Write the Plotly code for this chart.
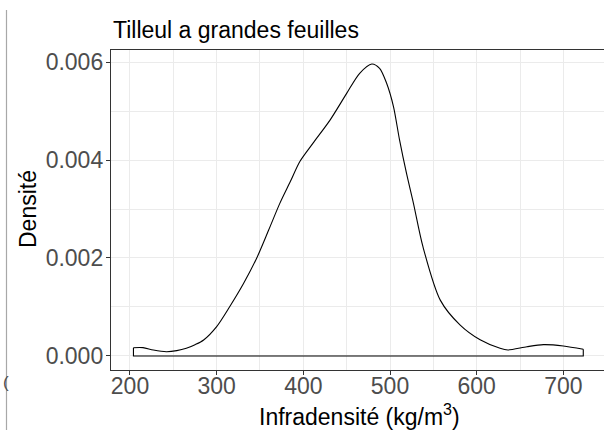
import plotly.graph_objects as go

# Kernel density estimate of wood basic density (kg/m3) for large-leaved lime
infradensite = [204, 215, 227, 242, 254, 265, 275, 285, 300, 315, 331, 346, 360,
                373, 385, 396, 411, 431, 450, 465, 479, 488, 496, 504, 511, 519,
                527, 538, 558, 581, 604, 627, 636, 658, 677, 700, 723]
densite = [0.000169, 0.000170, 0.000122, 0.000088, 0.000109, 0.000156, 0.000230,
           0.000327, 0.000600, 0.001006, 0.001480, 0.001990, 0.002570, 0.003120,
           0.003560, 0.003970, 0.004340, 0.004820, 0.005360, 0.005770, 0.005960,
           0.005870, 0.005570, 0.005090, 0.004410, 0.003730, 0.003120, 0.002230,
           0.001140, 0.000630, 0.000330, 0.000156, 0.000122, 0.000190, 0.000231,
           0.000204, 0.000136]

x_ticks = [200, 300, 400, 500, 600, 700]
y_ticks = [0.000, 0.002, 0.004, 0.006]
y_tick_labels = ["0.000", "0.002", "0.004", "0.006"]

titre = "Tilleul a grandes feuilles"
titre_x = "Infradensité (kg/m<sup>3</sup>)"
titre_y = "Densité"

W, H = 604, 430
ML, MR, MT, MB = 111, 0, 50, 60
PW, PH = W - ML - MR, H - MT - MB


def px_x(p):
    return (p - ML) / PW


def px_y(p):
    return (H - MB - p) / PH


fig = go.Figure()

# smooth density curve
fig.add_trace(go.Scatter(
    x=infradensite, y=densite, mode="lines",
    line=dict(color="black", width=1.1, shape="spline", smoothing=0.8),
    hoverinfo="skip", showlegend=False,
))
# closing outline: end segments and baseline
fig.add_trace(go.Scatter(
    x=[infradensite[0], infradensite[0], infradensite[-1], infradensite[-1]],
    y=[densite[0], 0, 0, densite[-1]],
    mode="lines", line=dict(color="black", width=1.1),
    hoverinfo="skip", showlegend=False,
))

grid_major = "#EBEBEB"
axis_col = "#333333"
tick_font = dict(family="Liberation Sans, Arial, sans-serif", size=23, color="#4D4D4D")

fig.update_xaxes(
    range=[178.1, 746.9], tickvals=x_ticks, ticktext=[str(v) for v in x_ticks],
    showgrid=True, gridcolor=grid_major, gridwidth=1.3,
    minor=dict(dtick=50, tick0=150, showgrid=True, gridcolor=grid_major, gridwidth=0.8),
    zeroline=False, showline=True, linecolor=axis_col, linewidth=1.4, mirror=True,
    ticks="outside", ticklen=4, tickcolor=axis_col, tickwidth=1.1,
    tickfont=tick_font, ticklabelstandoff=-9,
)
fig.update_yaxes(
    range=[-0.000286, 0.006245], tickvals=y_ticks, ticktext=y_tick_labels,
    showgrid=True, gridcolor=grid_major, gridwidth=1.3,
    minor=dict(dtick=0.001, tick0=0, showgrid=True, gridcolor=grid_major, gridwidth=0.8),
    zeroline=False, showline=True, linecolor=axis_col, linewidth=1.4, mirror=False,
    ticks="outside", ticklen=4, tickcolor=axis_col, tickwidth=1.1,
    tickfont=tick_font, ticklabelstandoff=-2,
)

txt_font = dict(family="Liberation Sans, Arial, sans-serif", size=23, color="black")
annotations = [
    dict(text=titre, x=px_x(111), y=px_y(29.5), xanchor="left", yanchor="middle",
         font=txt_font),
    dict(text=titre_x, x=px_x(359), y=px_y(415), xanchor="center", yanchor="middle",
         font=txt_font),
    dict(text=titre_y, x=px_x(28), y=px_y(209), xanchor="center", yanchor="middle",
         textangle=-90, font=txt_font),
    dict(text="(", x=px_x(0.5), y=px_y(382), xanchor="left", yanchor="middle",
         font=dict(family="Liberation Sans, Arial, sans-serif", size=17, color="#4D4D4D")),
]
for a in annotations:
    a.update(xref="paper", yref="paper", showarrow=False)

fig.update_layout(
    width=W, height=H,
    margin=dict(l=ML, r=MR, t=MT, b=MB, pad=0),
    paper_bgcolor="white", plot_bgcolor="white",
    annotations=annotations,
    shapes=[dict(type="line", xref="paper", yref="paper",
                 x0=px_x(6.5), x1=px_x(6.5), y0=px_y(430), y1=px_y(10),
                 line=dict(color="#A8A8A8", width=1.2))],
    font=dict(family="Liberation Sans, Arial, sans-serif"),
)

fig.write_html("out.html")
